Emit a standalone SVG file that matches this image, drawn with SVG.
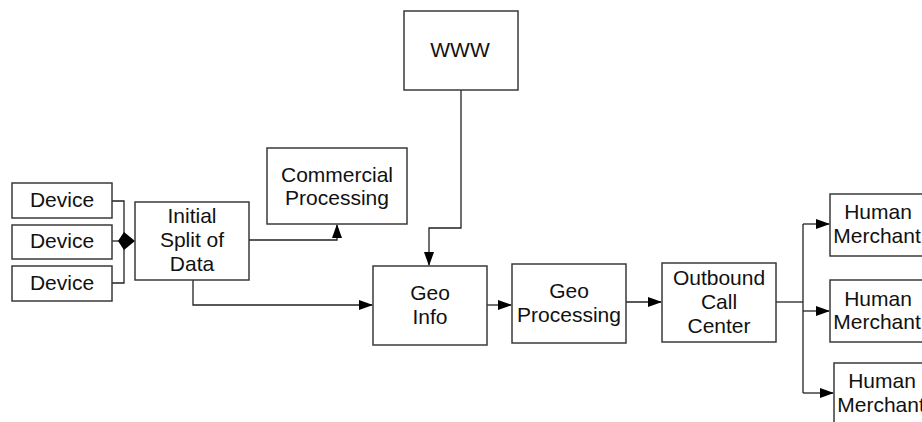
<svg xmlns="http://www.w3.org/2000/svg" width="922" height="422" viewBox="0 0 922 422">
<defs>
<style>
.box{fill:#fff;stroke:#3a3a3a;stroke-width:1.5}
.t{font-family:"Liberation Sans",Arial,sans-serif;font-size:21px;fill:#111;text-anchor:middle}
.c{fill:none;stroke:#222;stroke-width:1.3}
</style>
<marker id="ah" markerWidth="14" markerHeight="10" refX="13" refY="5" orient="auto" markerUnits="userSpaceOnUse">
<path d="M0,0 L14,5 L0,10 Z" fill="#000"/>
</marker>
</defs>
<rect width="922" height="422" fill="#fff"/>
<g id="connectors">
<path class="c" d="M112,201 H124 V283 H112"/>
<path class="c" d="M112,241 H124"/>
<path d="M118,241 L124,232 L135,241 L124,250 Z" fill="#000"/>
<path class="c" d="M249,240 H337 V225" marker-end="url(#ah)"/>
<path class="c" d="M193,280 V305 H372" marker-end="url(#ah)"/>
<path class="c" d="M461,90 V228 H429 V265" marker-end="url(#ah)"/>
<path class="c" d="M487,305 H511" marker-end="url(#ah)"/>
<path class="c" d="M626,302 H661" marker-end="url(#ah)"/>
<path class="c" d="M776,302 H803"/>
<path class="c" d="M803,224 V393"/>
<path class="c" d="M803,224 H829" marker-end="url(#ah)"/>
<path class="c" d="M803,311 H829" marker-end="url(#ah)"/>
<path class="c" d="M803,393 H833" marker-end="url(#ah)"/>
</g>
<g id="device1"><rect class="box" x="12" y="183" width="100" height="35"/><text class="t" x="62" y="207">Device</text></g>
<g id="device2"><rect class="box" x="12" y="225" width="100" height="34"/><text class="t" x="62" y="248">Device</text></g>
<g id="device3"><rect class="box" x="12" y="266" width="100" height="35"/><text class="t" x="62" y="290">Device</text></g>
<g id="initial"><rect class="box" x="135" y="202" width="114" height="78"/><text class="t" x="192" y="223">Initial</text><text class="t" x="192" y="247">Split of</text><text class="t" x="192" y="271">Data</text></g>
<g id="commercial"><rect class="box" x="267" y="148" width="140" height="76"/><text class="t" x="337" y="182">Commercial</text><text class="t" x="337" y="205">Processing</text></g>
<g id="www"><rect class="box" x="404" y="11" width="114" height="79"/><text class="t" x="460" y="57">WWW</text></g>
<g id="geoinfo"><rect class="box" x="373" y="266" width="114" height="79"/><text class="t" x="430" y="300">Geo</text><text class="t" x="430" y="324">Info</text></g>
<g id="geoproc"><rect class="box" x="512" y="264" width="114" height="79"/><text class="t" x="569" y="298">Geo</text><text class="t" x="569" y="322">Processing</text></g>
<g id="outbound"><rect class="box" x="662" y="263" width="114" height="79"/><text class="t" x="719" y="285">Outbound</text><text class="t" x="719" y="309">Call</text><text class="t" x="719" y="333">Center</text></g>
<g id="human1"><rect class="box" x="830" y="194" width="120" height="62"/><text class="t" x="878" y="219">Human</text><text class="t" x="877" y="243">Merchant</text></g>
<g id="human2"><rect class="box" x="830" y="280" width="120" height="62"/><text class="t" x="878" y="306">Human</text><text class="t" x="877" y="329">Merchant</text></g>
<g id="human3"><rect class="box" x="834" y="363" width="120" height="70"/><text class="t" x="882" y="388">Human</text><text class="t" x="881" y="412">Merchant</text></g>
</svg>
